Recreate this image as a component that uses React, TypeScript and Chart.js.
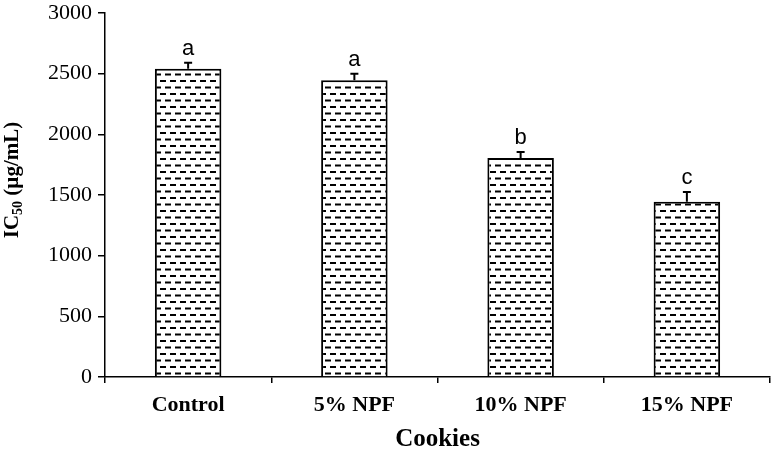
import React, { useEffect, useRef } from 'react';
import { Chart, registerables } from 'chart.js';

Chart.register(...registerables);

const categories = ['Control', '5% NPF', '10% NPF', '15% NPF'];
const values = [2540, 2445, 1805, 1445];
const errors = [50, 55, 50, 80];
const letters = ['a', 'a', 'b', 'c'];
const yMin = 0;
const yMax = 3000;
const yStep = 500;

function makePattern(): CanvasPattern | string {
  const c = document.createElement('canvas');
  c.width = 10;
  c.height = 13;
  const g = c.getContext('2d');
  if (!g) return '#fff';
  g.fillStyle = '#ffffff';
  g.fillRect(0, 0, 10, 13);
  g.fillStyle = '#000000';
  g.fillRect(0, 2, 6, 2);
  g.fillRect(5, 8.5, 5, 2);
  g.fillRect(0, 8.5, 1, 2);
  const p = g.createPattern(c, 'repeat');
  return p || '#fff';
}

const errorPlugin = {
  id: 'errorBars',
  afterDatasetsDraw(chart: any) {
    const ctx = chart.ctx;
    const meta = chart.getDatasetMeta(0);
    const ys = chart.scales.y;
    ctx.save();
    meta.data.forEach((el: any, i: number) => {
      const x = el.x;
      const yb = el.y;
      const yt = ys.getPixelForValue(values[i] + errors[i]);
      ctx.strokeStyle = '#000';
      ctx.lineWidth = 2;
      ctx.beginPath();
      ctx.moveTo(x, yb);
      ctx.lineTo(x, yt);
      ctx.moveTo(x - 4, yt);
      ctx.lineTo(x + 4, yt);
      ctx.stroke();
      ctx.fillStyle = '#000';
      ctx.font = '22px "Liberation Sans", Arial, sans-serif';
      ctx.textAlign = 'center';
      ctx.textBaseline = 'middle';
      ctx.fillText(letters[i], x, yt - 14);
    });
    ctx.restore();
  },
};

const yTitlePlugin = {
  id: 'yTitle',
  afterDraw(chart: any) {
    const ctx = chart.ctx;
    ctx.save();
    ctx.translate(13, 180);
    ctx.rotate(-Math.PI / 2);
    ctx.fillStyle = '#000';
    ctx.textBaseline = 'middle';
    ctx.textAlign = 'left';
    const big = 'bold 21px "Liberation Serif", "Times New Roman", serif';
    const small = 'bold 14px "Liberation Serif", "Times New Roman", serif';
    ctx.font = big;
    const w1 = ctx.measureText('IC').width;
    const w3 = ctx.measureText(' (µg/mL)').width;
    ctx.font = small;
    const w2 = ctx.measureText('50').width;
    const total = w1 + w2 + w3;
    let x = -total / 2;
    ctx.font = big;
    ctx.fillText('IC', x, 0);
    x += w1;
    ctx.font = small;
    ctx.fillText('50', x, 5);
    x += w2;
    ctx.font = big;
    ctx.fillText(' (µg/mL)', x, 0);
    ctx.restore();
  },
};

export default function App() {
  const ref = useRef<HTMLCanvasElement>(null);
  useEffect(() => {
    if (!ref.current) return;
    const chart = new Chart(ref.current, {
      type: 'bar',
      data: {
        labels: categories,
        datasets: [
          {
            data: values,
            backgroundColor: makePattern() as any,
            borderColor: '#000',
            borderWidth: 2,
            barPercentage: 0.4,
            categoryPercentage: 1,
          },
        ],
      },
      options: {
        responsive: false,
        animation: false,
        layout: { padding: { left: 0, right: 3, top: 13, bottom: 0 } },
        plugins: { legend: { display: false }, tooltip: { enabled: false } },
        scales: {
          x: {
            grid: {
              offset: true,
              drawOnChartArea: false,
              drawTicks: true,
              tickLength: 6,
              color: '#000',
              lineWidth: 1.5,
            },
            border: { color: '#000', width: 1.5 },
            ticks: {
              color: '#000',
              padding: 9,
              font: { family: '"Liberation Serif", "Times New Roman", serif', size: 22, weight: 'bold' },
            },
            title: {
              display: true,
              text: 'Cookies',
              color: '#000',
              padding: { top: 0, bottom: 0 },
              font: { family: '"Liberation Serif", "Times New Roman", serif', size: 25, weight: 'bold' },
            },
            afterFit(scale: any) {
              scale.height = 78;
            },
          },
          y: {
            min: yMin,
            max: yMax,
            ticks: {
              stepSize: yStep,
              color: '#000',
              padding: 6,
              callback: (v: any) => String(v),
              font: { family: '"Liberation Serif", "Times New Roman", serif', size: 22 },
            },
            grid: {
              drawOnChartArea: false,
              drawTicks: true,
              tickLength: 7,
              color: '#000',
              lineWidth: 1.5,
            },
            border: { color: '#000', width: 1.5 },
            afterFit(scale: any) {
              scale.width = 105;
              scale.paddingTop = 0;
              scale.paddingBottom = 0;
            },
          },
        },
      },
      plugins: [errorPlugin, yTitlePlugin],
    });
    return () => chart.destroy();
  }, []);
  return (
    <div style={{ position: 'fixed', left: 0, top: 0, width: 773, height: 455, background: '#fff' }}>
      <canvas ref={ref} width={773} height={455} />
    </div>
  );
}
